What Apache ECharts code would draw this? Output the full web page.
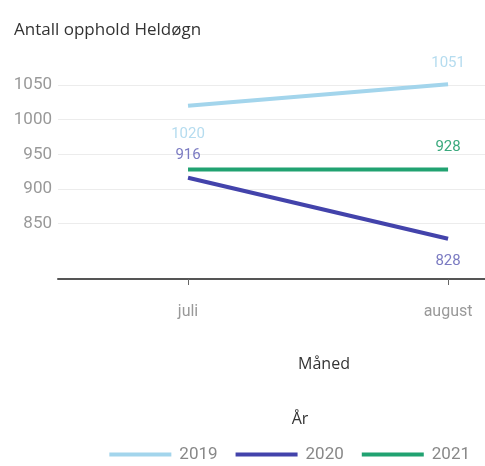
<!DOCTYPE html>
<html><head><meta charset="utf-8">
<script src="https://cdn.jsdelivr.net/npm/echarts@6/dist/echarts.min.js"></script>
<style>html,body{margin:0;padding:0;background:#fff}#c{width:485px;height:466px}</style>
</head><body><div id="c"></div>
<script>
const months = ['juli', 'august'];
const years = ['2019', '2020', '2021'];
const v2019 = [1020, 1051];
const v2020 = [916, 828];
const v2021 = [928, 928];
const yTicks = [850, 900, 950, 1000, 1050];
const colors = ['#a3d5ec', '#4343ab', '#21a271'];
const labelColors = ['#b5dcef', '#7b7bc2', '#3aa97d'];
const labelPos = [['bottom', 'top'], ['top', 'bottom'], [null, 'top']];
const labelDist = [[21, 14], [15, 15], [15, 15]];
const values = [v2019, v2020, v2021];
const font = 'Roboto';

const chart = echarts.init(document.getElementById('c'));
chart.setOption({
  animation: false,
  title: [
    { text: 'Antall opphold Heldøgn', left: 9, top: 17, textStyle: { fontFamily: 'Open Sans', fontSize: 17, fontWeight: 'normal', color: '#333' } },
    { text: 'Måned', left: 319, top: 351, textAlign: 'center', textStyle: { fontFamily: 'Open Sans', fontSize: 16, fontWeight: 500, color: '#333' } },
    { text: 'År', left: 295, top: 406, textAlign: 'center', textStyle: { fontFamily: 'Open Sans', fontSize: 16, fontWeight: 500, color: '#333' } }
  ],
  legend: {
    data: years, right: 10, top: 441, icon: 'rect', itemWidth: 62, itemHeight: 4, itemGap: 18,
    textStyle: { fontFamily: font, fontSize: 17, color: '#888', padding: [0, 0, 0, 3] }
  },
  grid: { left: 58, right: 0, top: 60, bottom: 187 },
  xAxis: {
    type: 'value', min: -0.5, max: 1.142,
    axisLine: { show: true, lineStyle: { color: '#555', width: 2 } },
    axisTick: { show: true, customValues: [0, 1], length: 6, lineStyle: { color: '#666' } },
    axisLabel: { customValues: [0, 1], formatter: v => months[Math.round(v)], fontFamily: font, fontSize: 16, color: '#999', margin: 25 },
    splitLine: { show: false }
  },
  yAxis: {
    type: 'value', min: 770, max: 1086,
    axisLine: { show: false },
    axisTick: { show: false, customValues: yTicks },
    axisLabel: { customValues: yTicks, formatter: v => String(v), fontFamily: font, fontSize: 17, color: '#999', margin: 6 },
    splitLine: { show: true, lineStyle: { color: '#ececec', width: 1 } }
  },
  series: years.map((y, si) => ({
    name: y, type: 'line', showSymbol: true, symbol: 'circle', symbolSize: 0.01, color: colors[si],
    lineStyle: { width: 4, color: colors[si] },
    data: values[si].map((val, i) => ({
      value: [i, val],
      label: labelPos[si][i] ? { show: true, position: labelPos[si][i], distance: labelDist[si][i], color: labelColors[si], fontFamily: font, fontSize: 15 } : { show: false }
    }))
  }))
});
</script></body></html>
